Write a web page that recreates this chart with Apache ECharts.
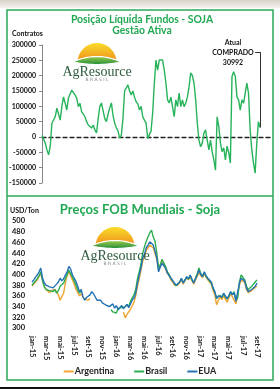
<!DOCTYPE html>
<html><head><meta charset="utf-8">
<script src="https://cdn.jsdelivr.net/npm/echarts@6/dist/echarts.min.js"></script>
<style>html,body{margin:0;padding:0;background:#fff}#c{width:280px;height:389px}</style>
</head><body><div id="c"></div>
<script>
// ---------- Top chart: Posição Líquida Fundos - SOJA ----------
const posicao = [5000, 8000, -20000, -42000, -58000, -30000, 45000, 50000, 66000, 94000,
  75000, 55000, 99000, 131000, 111000, 88000, 127000, 140000, 153000, 148000,
  137000, 127000, 99000, 110000, 82000, 75000, 66000, 50000, 39000, 34000,
  29000, 39000, 23000, 13000, 60000, 100000, 111000, 85000, 60000, 50000,
  75000, 95000, 111000, 70000, 45000, 30000, 20000, -3000, 5000, 60000,
  150000, 153000, 170000, 150000, 137000, 150000, 130000, 115000, 108000, 88000,
  100000, 66000, 55000, 45000, -5000, -10000, 20000, 80000, 176000, 251000,
  218000, 251000, 245000, 251000, 218000, 176000, 121000, 111000, 130000, 99000,
  66000, 121000, 99000, 143000, 99000, 121000, 99000, 111000, 130000, 164000,
  209000, 200000, 176000, 121000, 45000, -10000, -32000, -20000, 13000, 23000,
  -10000, -42000, -10000, -48000, -75000, -108000, 66000, 34000, -20000, -48000,
  -35000, -75000, -30000, -50000, -85000, 197000, 213000, 197000, 131000, 121000,
  88000, 121000, 110000, 143000, 176000, 143000, 23000, -42000, -85000, -118000,
  -20000, 50000, 30992];
const posExtraSlots = 6;          // empty weeks after the last value (axis continues)
const posYTicks = {min: -150000, max: 300000, interval: 50000};
const atualValue = 30992;

// ---------- Bottom chart: Preços FOB Mundiais - Soja ----------
const monthTicks = ['jan-15','mar-15','mai-15','jul-15','set-15','nov-15','jan-16','mar-16','mai-16',
  'jul-16','set-16','nov-16','jan-17','mar-17','mai-17','jul-17','set-17'];
const weeksPerTick = 8;
const argentina = [378,382,386,390,396,402,390,378,372,370,
  366,370,368,372,368,362,352,350,365,385,
  398,405,402,390,382,372,366,360,364,358,
  354,356,352,355,
  null,null,null,null,null,null,null,null,null,null,null,null,null,null,null,null,null,null,
  330,319,325,330,335,337,348,360,
  378,392,408,425,435,445,450,455,458,450,
  448,428,408,418,428,426,410,402,398,390,
  386,380,377,380,385,390,382,388,394,390,
  396,388,382,390,397,404,398,394,402,395,
  390,386,382,370,362,343,352,358,353,360,
  354,348,356,364,358,360,345,347,380,390,
  392,385,372,366,368,370,373,376,378];
const brasil = [380,384,388,392,398,405,388,377,372,375,
  370,373,368,372,365,370,378,380,384,392,
  400,408,405,395,388,380,371,365,370,
  null,null,null,null,null,null,null,null,null,null,null,null,null,null,null,null,
  334,330,332,328,337,
  336,338,335,340,344,340,350,356,362,372,
  392,405,420,440,452,462,470,478,483,470,
  462,440,412,418,428,430,415,405,400,393,
  389,383,379,382,386,392,385,389,395,391,
  398,390,385,393,402,412,402,396,404,397,
  392,388,384,374,367,356,358,361,357,364,
  358,354,360,367,363,368,352,356,386,399,
  398,390,378,372,374,378,382,386,390];
const eua = [386,390,395,399,405,412,393,384,380,383,
  377,380,375,378,382,386,393,388,392,399,
  405,415,410,399,393,387,378,368,372,358,
  352,357,355,362,368,364,358,352,349,352,
  347,350,343,346,340,343,345,337,342,334,
  338,342,336,340,344,338,345,352,356,365,
  384,399,412,431,438,450,455,461,458,455,
  452,431,405,414,421,420,412,403,400,393,
  390,384,380,381,386,393,384,390,396,392,
  399,391,384,392,399,408,400,396,405,398,
  393,390,386,375,368,355,360,362,358,365,
  360,355,360,368,362,366,350,352,384,393,
  396,388,375,368,370,372,375,378,384];
const priceYTicks = {min: 300, max: 500, interval: 20};
const seriesNames = ['Argentina', 'Brasil', 'EUA'];

// ---------- build ----------
const FONT = 'Lato';
const GREEN_T = '#21a852';
const posCats = [];
for (let i = 0; i < posicao.length + posExtraSlots; i++) posCats.push('w' + i);
const lastIdx = posicao.length - 1;

const priceCats = [];
for (let i = 0; i < eua.length; i++) priceCats.push(i % weeksPerTick === 0 ? monthTicks[i / weeksPerTick] : ('p' + i));

function logo(cx, top) {
  const r = 19.5, cy = top + r;
  const pts = [];
  const L = cx - 24, yE = top + 19, yT = top + 8, yB = top + 24;
  for (let k = 0; k <= 20; k++) { const t = k / 20; pts.push([L + 48 * t, (1-t)*(1-t)*yE + 2*t*(1-t)*yT + t*t*yE]); }
  for (let k = 20; k >= 0; k--) { const t = k / 20; pts.push([L + 48 * t, (1-t)*(1-t)*yE + 2*t*(1-t)*yB + t*t*yE]); }
  return [
    {type: 'sector', z: 5, shape: {cx: cx, cy: cy, r: r, startAngle: Math.PI, endAngle: 2 * Math.PI},
      style: {fill: new echarts.graphic.LinearGradient(0, 0, 0, 1, [{offset: 0, color: '#f9dc2a'}, {offset: 1, color: '#ef8a1d'}])}},
    {type: 'polygon', z: 6, shape: {points: pts},
      style: {fill: new echarts.graphic.LinearGradient(0, 0, 0, 1, [{offset: 0, color: '#a6d04a'}, {offset: 1, color: '#1b8a3d'}]), stroke: '#fff', lineWidth: 1.2}},
    {type: 'text', z: 6, style: {text: 'AgResource', x: cx, y: top + 29, textAlign: 'center', textVerticalAlign: 'middle',
      font: '14px "Liberation Serif"', fill: '#2f5d40'}},
    {type: 'text', z: 6, style: {text: 'B R A S I L', x: cx, y: top + 37, textAlign: 'center', textVerticalAlign: 'middle',
      font: '4.5px "DejaVu Sans"', fill: '#888'}}
  ];
}

const chart = echarts.init(document.getElementById('c'), null, {renderer: 'canvas'});
const graphics = [
  {type: 'rect', z: 0, shape: {x: 0, y: 0, width: 280, height: 8}, style: {fill: new echarts.graphic.LinearGradient(0,0,0,1,[{offset:0,color:'#d9d2cb'},{offset:1,color:'#f4f1ee'}])}},
  {type: 'rect', z: 0, shape: {x: 7, y: 10, width: 266, height: 370}, style: {fill: 'none', stroke: '#2aa858', lineWidth: 1.5}},
  {type: 'line', z: 0, shape: {x1: 7, y1: 196, x2: 273, y2: 196}, style: {stroke: '#2aa858', lineWidth: 1.5}},
  {type: 'rect', z: 0, shape: {x: 0, y: 387, width: 280, height: 2}, style: {fill: '#111'}},
  {type: 'text', z: 10, style: {text: 'Posição Líquida Fundos - SOJA', x: 142, y: 20, textAlign: 'center', textVerticalAlign: 'middle', font: 'bold 10.4px ' + FONT, fill: GREEN_T}},
  {type: 'text', z: 10, style: {text: 'Gestão Ativa', x: 142, y: 31, textAlign: 'center', textVerticalAlign: 'middle', font: 'bold 10.4px ' + FONT, fill: GREEN_T}},
  {type: 'text', z: 10, style: {text: 'Contratos', x: 12, y: 34, textAlign: 'left', textVerticalAlign: 'middle', font: 'bold 7px ' + FONT, fill: '#111'}},
  {type: 'text', z: 10, style: {text: 'Atual\nCOMPRADO\n' + atualValue, x: 233, y: 53, textAlign: 'center', textVerticalAlign: 'middle', font: 'bold 7px ' + FONT, lineHeight: 10, fill: '#111'}},
  {type: 'text', z: 10, style: {text: 'Preços FOB Mundiais - Soja', x: 140, y: 210, textAlign: 'center', textVerticalAlign: 'middle', font: 'bold 13px ' + FONT, fill: GREEN_T}},
  {type: 'text', z: 10, style: {text: 'USD/Ton', x: 10, y: 211, textAlign: 'left', textVerticalAlign: 'middle', font: 'bold 7px ' + FONT, fill: '#111'}}
].concat(logo(97, 43)).concat(logo(115, 227));

chart.setOption({
  animation: false,
  backgroundColor: '#fff',
  graphic: graphics,
  grid: [
    {left: 42, right: 10, top: 45, bottom: 206},
    {left: 32, right: 23, top: 221, bottom: 61}
  ],
  legend: {
    data: seriesNames, bottom: 8, left: 'center', itemGap: 20,
    icon: 'rect', itemWidth: 10, itemHeight: 2,
    textStyle: {fontFamily: FONT, fontWeight: 'bold', fontSize: 9, color: '#222', padding: [0, 0, 0, -4]}
  },
  xAxis: [
    {gridIndex: 0, type: 'category', data: posCats, boundaryGap: false,
      axisLine: {onZero: true, lineStyle: {color: '#222', type: [4, 3], width: 1.3}},
      axisTick: {show: false}, axisLabel: {show: false}, splitLine: {show: false}},
    {gridIndex: 1, type: 'category', data: priceCats, boundaryGap: false,
      axisLine: {show: false}, axisTick: {show: false}, splitLine: {show: false},
      axisLabel: {interval: 0, rotate: -90, margin: 8, fontFamily: FONT, fontWeight: 'bold', fontSize: 7.5, color: '#222',
        formatter: (v, i) => (i % weeksPerTick === 0 ? v : '')}}
  ],
  yAxis: [
    {gridIndex: 0, type: 'value', min: posYTicks.min, max: posYTicks.max, interval: posYTicks.interval,
      axisLine: {show: true, lineStyle: {color: '#888'}}, axisTick: {show: true, length: 3, lineStyle: {color: '#888'}},
      splitLine: {show: false},
      axisLabel: {margin: 6, fontFamily: FONT, fontWeight: 'bold', fontSize: 7, color: '#111', formatter: v => String(v)}},
    {gridIndex: 1, type: 'value', min: priceYTicks.min, max: priceYTicks.max, interval: priceYTicks.interval,
      axisLine: {show: false}, axisTick: {show: false}, splitLine: {show: false},
      axisLabel: {margin: 7, fontFamily: FONT, fontWeight: 'bold', fontSize: 7.5, color: '#111'}}
  ],
  series: [
    {type: 'line', xAxisIndex: 0, yAxisIndex: 0, data: posicao, showSymbol: false, z: 3,
      lineStyle: {color: '#27b35a', width: 1.4},
      markLine: {silent: true, symbol: ['none', 'none'], label: {show: false},
        lineStyle: {color: '#333', type: 'solid', width: 1},
        data: [
          [{coord: [lastIdx, atualValue]}, {coord: [lastIdx, 277000]}],
          [{coord: [lastIdx - 3, 277000]}, {coord: [lastIdx, 277000]}]
        ]}},
    {name: 'Argentina', type: 'line', xAxisIndex: 1, yAxisIndex: 1, data: argentina, showSymbol: false, connectNulls: false,
      itemStyle: {color: '#f0a431'}, lineStyle: {color: '#f0a431', width: 1.4}},
    {name: 'Brasil', type: 'line', xAxisIndex: 1, yAxisIndex: 1, data: brasil, showSymbol: false, connectNulls: false,
      itemStyle: {color: '#2cae50'}, lineStyle: {color: '#2cae50', width: 1.4}},
    {name: 'EUA', type: 'line', xAxisIndex: 1, yAxisIndex: 1, data: eua, showSymbol: false,
      itemStyle: {color: '#2472b5'}, lineStyle: {color: '#2472b5', width: 1.4}}
  ]
});
</script></body></html>
